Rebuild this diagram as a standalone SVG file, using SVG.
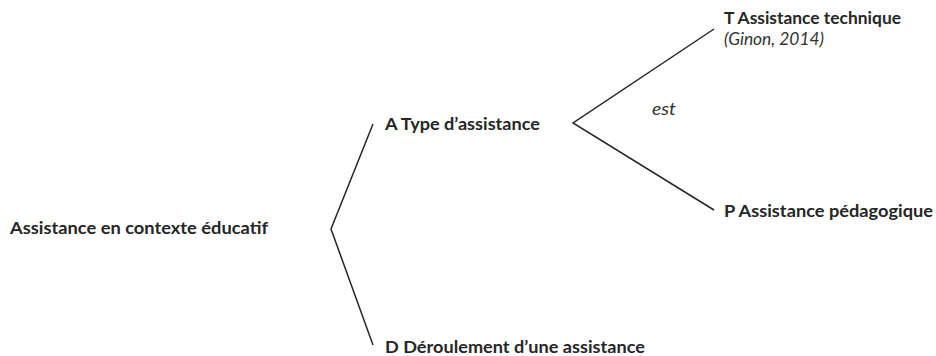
<svg xmlns="http://www.w3.org/2000/svg" width="936" height="356" viewBox="0 0 936 356">
<style>
.t{font-family:Lato,"Open Sans","Liberation Sans",sans-serif;font-size:17px;font-weight:bold;fill:#262626}
.i{font-family:Lato,"Open Sans","Liberation Sans",sans-serif;font-size:17px;font-style:italic;fill:#333}
.c{stroke:#262626;stroke-width:1.5;fill:none}
</style>
<rect width="936" height="356" fill="#fff"/>
<g id="connectors">
<polyline class="c" points="373,124 331,229 373,345"/>
<polyline class="c" points="714,29 573,123 714,210"/>
</g>
<g id="root"><text class="t" x="10" y="234" textLength="258" lengthAdjust="spacingAndGlyphs">Assistance en contexte éducatif</text></g>
<g id="A"><text class="t" x="385" y="130" textLength="155" lengthAdjust="spacingAndGlyphs">A Type d’assistance</text></g>
<g id="D"><text class="t" x="385" y="353" textLength="260" lengthAdjust="spacingAndGlyphs">D Déroulement d’une assistance</text></g>
<g id="T"><text class="t" x="724" y="24" textLength="177" lengthAdjust="spacingAndGlyphs">T Assistance technique</text>
<text class="i" x="724" y="45" textLength="100" lengthAdjust="spacingAndGlyphs">(Ginon, 2014)</text></g>
<g id="P"><text class="t" x="724" y="217" textLength="209" lengthAdjust="spacingAndGlyphs">P Assistance pédagogique</text></g>
<g id="label"><text class="i" x="652" y="115" textLength="24" lengthAdjust="spacingAndGlyphs">est</text></g>
</svg>
